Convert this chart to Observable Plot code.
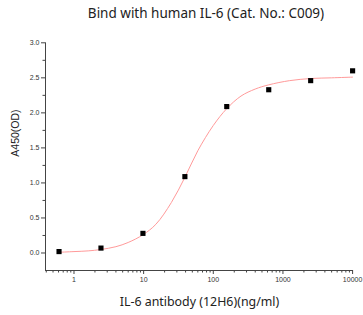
<!DOCTYPE html>
<html>
<head>
<meta charset="utf-8">
<script src="https://cdn.jsdelivr.net/npm/d3@7"></script>
<script src="https://cdn.jsdelivr.net/npm/@observablehq/plot@0.6"></script>
<style>
  html, body { margin: 0; padding: 0; background: #fff; }
  #wrap { width: 363px; height: 315px; position: relative; overflow: hidden; }
  #title { position: absolute; left: 0; top: 0; width: 363px; height: 30px; font-family: "Noto Sans", "Open Sans", sans-serif; font-size: 13.5px; line-height: 1; color: #222; }
  #title span { position: absolute; left: 206px; top: 6.5px; transform: translateX(-50%); white-space: nowrap; }
  #chart { position: absolute; left: 0; top: 30px; }
</style>
</head>
<body>
<div id="wrap">
  <div id="title"><span>Bind with human IL-6 (Cat. No.: C009)</span></div>
  <div id="chart"></div>
</div>
<script>
// Measured points (concentration ng/ml, A450)
const conc = [0.61, 2.44, 9.77, 39.1, 156, 625, 2500, 10000];
const od = [0.02, 0.07, 0.28, 1.09, 2.09, 2.33, 2.46, 2.60];

// Fitted curve
const curveX = [0.61, 1, 1.6, 2.44, 4, 6, 9.77, 15, 25, 39.1, 60, 100, 156, 250, 400, 625, 1250, 2500, 5000, 10000];
const curveY = [0.01, 0.02, 0.03, 0.05, 0.09, 0.15, 0.26, 0.41, 0.72, 1.08, 1.46, 1.82, 2.06, 2.24, 2.34, 2.40, 2.46, 2.49, 2.50, 2.51];

const xTickValues = [1, 10, 100, 1000, 10000];
const xTickLabels = ["1", "10", "100", "1000", "10000"];
const yTickValues = [0, 0.5, 1.0, 1.5, 2.0, 2.5, 3.0];
const yTickLabels = ["0.0", "0.5", "1.0", "1.5", "2.0", "2.5", "3.0"];
const yMinorValues = [0.25, 0.75, 1.25, 1.75, 2.25, 2.75];

const xTitle = "IL-6 antibody (12H6)(ng/ml)";
const yTitle = "A450(OD)";

const xDomain = [0.39, 10300];
const xMinor = [];
for (const d of [0.1, 1, 10, 100, 1000]) {
  for (let k = 2; k <= 9; k++) {
    const v = d * k;
    if (v >= xDomain[0] && v <= xDomain[1]) xMinor.push(v);
  }
}

const points = conc.map((c, i) => ({c, v: od[i]}));
const fit = curveX.map((c, i) => ({c, v: curveY[i]}));

const axisColor = "#444";
const tickFont = "Liberation Sans, Arial, sans-serif";

const chart = Plot.plot({
  width: 363,
  height: 285,
  marginLeft: 45,
  marginRight: 10,
  marginTop: 12.3,
  marginBottom: 45,
  style: { background: "white", fontFamily: tickFont, color: "#333" },
  x: { type: "log", domain: xDomain },
  y: { domain: [-0.25, 3] },
  marks: [
    Plot.ruleY([-0.25], { stroke: axisColor, strokeWidth: 1 }),
    Plot.ruleX([xDomain[0]], { stroke: axisColor, strokeWidth: 1 }),
    Plot.axisX(xTickValues, { tickSize: 4, tickPadding: 3, fontSize: 7, stroke: axisColor, tickFormat: (d) => xTickLabels[xTickValues.indexOf(d)], label: null }),
    Plot.axisX(xMinor, { tickSize: 2.5, text: null, stroke: axisColor, label: null }),
    Plot.axisY(yTickValues, { tickSize: 4, tickPadding: 2, fontSize: 7, stroke: axisColor, tickFormat: d => yTickLabels[yTickValues.indexOf(d)], label: null }),
    Plot.axisY(yMinorValues, { tickSize: 2.5, text: null, stroke: axisColor, label: null }),
    Plot.line(fit, { x: "c", y: "v", stroke: "#ff9a9a", strokeWidth: 1, curve: "catmull-rom" }),
    Plot.dot(points, { x: "c", y: "v", symbol: "square", r: 2.9, fill: "black", stroke: "none" }),
    Plot.text([xTitle], { frameAnchor: "bottom", dy: 35, fontSize: 12.4, fontFamily: "Noto Sans, Open Sans, sans-serif", fill: "#222", text: d => d }),
    Plot.text([yTitle], { frameAnchor: "left", dx: -30, rotate: -90, fontSize: 10.5, fontFamily: tickFont, fill: "#222", text: d => d })
  ]
});
document.getElementById("chart").appendChild(chart);
</script>
</body>
</html>
